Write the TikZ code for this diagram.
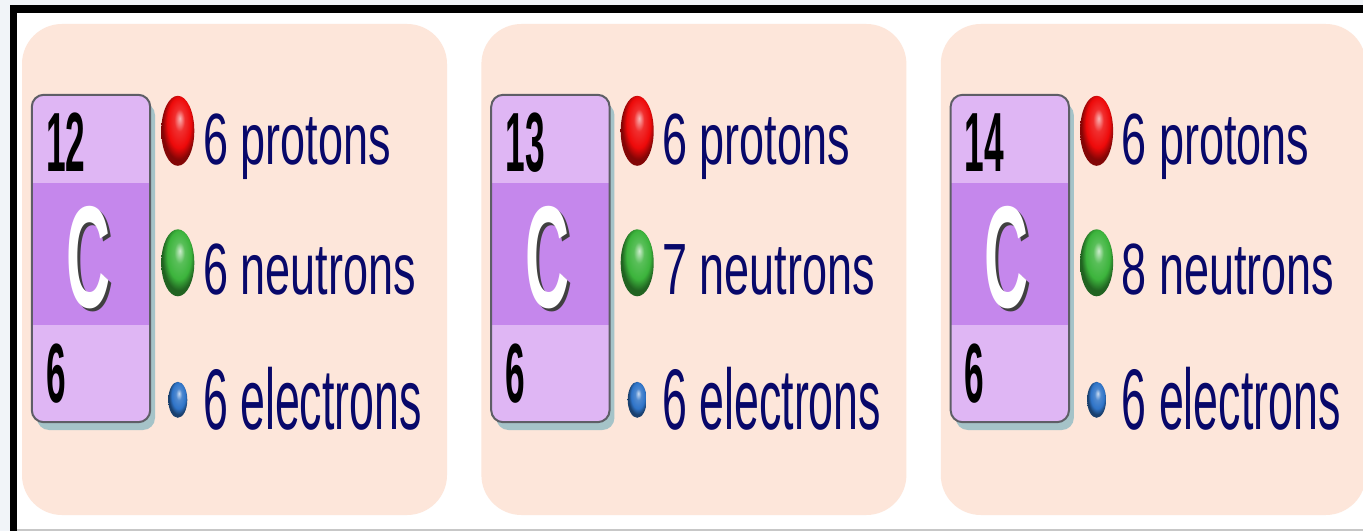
\documentclass[tikz,border=0pt]{standalone}
\usepackage{xcolor}
\usepackage{fontspec}
\usepackage{tikz}
\usetikzlibrary{shapes.geometric, positioning, shadows}

\newfontfamily\countfont[FakeStretch=0.62]{Liberation Sans}
\newfontfamily\tallfont[FakeStretch=0.52]{Liberation Sans}
\newfontfamily\symfont[FakeStretch=0.42]{Liberation Sans}

\definecolor{pagebg}{HTML}{F1F4F8}
\definecolor{peach}{HTML}{FDE6DA}
\definecolor{lavlight}{HTML}{DFB6F4}
\definecolor{lavdark}{HTML}{C587EC}
\definecolor{boxrimcol}{HTML}{5E5E66}
\definecolor{boxshade}{HTML}{A5C3C8}
\definecolor{navy}{HTML}{08086A}
\definecolor{protonred}{HTML}{EE0A0A}
\definecolor{neutrongreen}{HTML}{3CB43C}
\definecolor{electronblue}{HTML}{2F74C8}

% glossy balls, highlight near the top
\pgfdeclareradialshading{protonball}{\pgfqpoint{3bp}{9bp}}{color(0bp)=(protonred!30!white); color(8bp)=(protonred!85!white); color(18bp)=(protonred); color(25bp)=(protonred!55!black); color(50bp)=(protonred!55!black)}
\pgfdeclareradialshading{neutronball}{\pgfqpoint{3bp}{9bp}}{color(0bp)=(neutrongreen!25!white); color(8bp)=(neutrongreen!85!white); color(18bp)=(neutrongreen); color(25bp)=(neutrongreen!55!black); color(50bp)=(neutrongreen!55!black)}
\pgfdeclareradialshading{electronball}{\pgfqpoint{3bp}{9bp}}{color(0bp)=(electronblue!25!white); color(8bp)=(electronblue!85!white); color(18bp)=(electronblue); color(25bp)=(electronblue!55!black); color(50bp)=(electronblue!55!black)}

% white symbol with a dark offset copy behind it
\newcommand{\shadowsym}[1]{\makebox[0pt][l]{\hspace{3pt}\raisebox{-3pt}{\textcolor{black!75}{#1}}}#1}

\begin{document}
\begin{tikzpicture}[
        x=1pt, y=1pt,
        node distance=34pt,
        panel/.style={rectangle, rounded corners=40pt, fill=peach, minimum width=425pt, minimum height=491pt, inner sep=0pt},
        elem/.style={rectangle, rounded corners=12pt, fill=lavlight, minimum width=118pt, minimum height=327pt, inner sep=0pt,
            drop shadow={shadow xshift=5pt, shadow yshift=-8pt, fill=boxshade, opacity=1}},
        boxrim/.style={draw=boxrimcol, line width=2pt, rounded corners=12pt},
        nucnum/.style={inner sep=0pt, anchor=base west, font=\symfont\bfseries\fontsize{84}{90}\selectfont},
        sym/.style={inner sep=0pt, anchor=base west, text=white, font=\symfont\bfseries\fontsize{145}{150}\selectfont},
        count/.style={inner sep=0pt, anchor=base west, text=navy, font=\countfont\fontsize{72.6}{80}\selectfont},
        counttall/.style={count, font=\tallfont\fontsize{86}{92}\selectfont},
        proton/.style={ellipse, inner sep=0pt, minimum width=33pt, minimum height=70pt, shading=protonball},
        neutron/.style={ellipse, inner sep=0pt, minimum width=33pt, minimum height=67pt, shading=neutronball},
        electron/.style={ellipse, inner sep=0pt, minimum width=19pt, minimum height=36pt, shading=electronball}
    ]
        \useasboundingbox (0,0) rectangle (1363,531);
        \clip (0,0) rectangle (1363,531);

        % Frame
        \fill[pagebg] (0,0) rectangle (1363,531);
        \fill[white] (17,2) rectangle (1363,518);
        \fill[black] (10,0) rectangle (17,526);
        \fill[black] (10,518) rectangle (1363,526);
        \fill[black!22] (17,0) rectangle (1363,2);

        % Panels
        \node[panel] (panelA) at (234.5,261.5) {};
        \node[panel, right=of panelA] (panelB) {};
        \node[panel, right=of panelB] (panelC) {};

        % Element boxes
        \node[elem, anchor=north west] (boxA) at ([shift={(10,-71)}]panelA.north west) {};
        \node[elem, anchor=north west] (boxB) at ([shift={(10,-71)}]panelB.north west) {};
        \node[elem, anchor=north west] (boxC) at ([shift={(10,-71)}]panelC.north west) {};
        \fill[lavdark] ([yshift=-88]boxA.north west) rectangle ([yshift=97]boxA.south east);
        \fill[lavdark] ([yshift=-88]boxB.north west) rectangle ([yshift=97]boxB.south east);
        \fill[lavdark] ([yshift=-88]boxC.north west) rectangle ([yshift=97]boxC.south east);
        \draw[boxrim] (boxA.north west) rectangle (boxA.south east);
        \draw[boxrim] (boxB.north west) rectangle (boxB.south east);
        \draw[boxrim] (boxC.north west) rectangle (boxC.south east);

        % Mass and atomic numbers
        \node[nucnum] (massA) at ([shift={(14,-77)}]boxA.north west) {12};
        \node[nucnum] (massB) at ([shift={(14,-77)}]boxB.north west) {13};
        \node[nucnum] (massC) at ([shift={(14,-77)}]boxC.north west) {14};
        \node[nucnum] (numA) at ([shift={(14,-308)}]boxA.north west) {6};
        \node[nucnum] (numB) at ([shift={(14,-308)}]boxB.north west) {6};
        \node[nucnum] (numC) at ([shift={(14,-308)}]boxC.north west) {6};

        % Symbols
        \node[sym] (symA) at ([shift={(34,-213)}]boxA.north west) {\shadowsym{C}};
        \node[sym] (symB) at ([shift={(34,-213)}]boxB.north west) {\shadowsym{C}};
        \node[sym] (symC) at ([shift={(34,-213)}]boxC.north west) {\shadowsym{C}};

        % Particles
        \node[proton] (pA) at ([shift={(156,-107)}]panelA.north west) {};
        \node[neutron] (nA) at ([shift={(156,-239)}]panelA.north west) {};
        \node[electron] (eA) at ([shift={(156,-376)}]panelA.north west) {};
        \node[proton] (pB) at ([shift={(156,-107)}]panelB.north west) {};
        \node[neutron] (nB) at ([shift={(156,-239)}]panelB.north west) {};
        \node[electron] (eB) at ([shift={(156,-376)}]panelB.north west) {};
        \node[proton] (pC) at ([shift={(156,-107)}]panelC.north west) {};
        \node[neutron] (nC) at ([shift={(156,-239)}]panelC.north west) {};
        \node[electron] (eC) at ([shift={(156,-376)}]panelC.north west) {};

        % Counts
        \node[count] (pA_txt) at ([shift={(181,-141)}]panelA.north west) {6 protons};
        \node[count] (nA_txt) at ([shift={(181,-271)}]panelA.north west) {6 neutrons};
        \node[counttall] (eA_txt) at ([shift={(181,-406)}]panelA.north west) {6 electrons};
        \node[count] (pB_txt) at ([shift={(181,-141)}]panelB.north west) {6 protons};
        \node[count] (nB_txt) at ([shift={(181,-271)}]panelB.north west) {7 neutrons};
        \node[counttall] (eB_txt) at ([shift={(181,-406)}]panelB.north west) {6 electrons};
        \node[count] (pC_txt) at ([shift={(181,-141)}]panelC.north west) {6 protons};
        \node[count] (nC_txt) at ([shift={(181,-271)}]panelC.north west) {8 neutrons};
        \node[counttall] (eC_txt) at ([shift={(181,-406)}]panelC.north west) {6 electrons};
    \end{tikzpicture}
\end{document}
